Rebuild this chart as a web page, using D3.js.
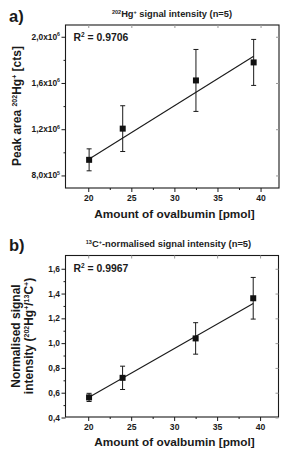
<!DOCTYPE html>
<html><head><meta charset="utf-8">
<script src="https://cdn.jsdelivr.net/npm/d3@7"></script>
<style>
html,body{margin:0;padding:0;background:#fff;}
svg{display:block;font-family:"Liberation Sans",Arial,sans-serif;}
</style></head>
<body>
<svg id="c" width="285" height="452"></svg>
<script>
// ---- data ----
const amount = [20.1, 24.0, 32.5, 39.2];               // pmol ovalbumin
const hgArea = [935000, 1205000, 1622000, 1778000];    // peak area 202Hg+ [cts]
const hgErr  = [95000, 198000, 268000, 199000];
const normSignal = [0.562, 0.720, 1.038, 1.362];       // 202Hg+/13C+
const normErr    = [0.033, 0.094, 0.127, 0.168];
const fitA = [8000, 46500];      // intercept, slope
const fitB = [-0.233, 0.0396];   // intercept, slope
const fitRange = [20.2, 39.2];
const xTicks = [20, 25, 30, 35, 40];
const xMinor = [22.5, 27.5, 32.5, 37.5];
const yTicksA = [800000, 1200000, 1600000, 2000000];
const yTickLabelsA = ["8,0x10", "1,2x10", "1,6x10", "2,0x10"];
const yTickExpA = ["5", "6", "6", "6"];
const yMinorA = [1000000, 1400000, 1800000];
const yTicksB = [0.4, 0.6, 0.8, 1.0, 1.2, 1.4, 1.6];
const yTickLabelsB = ["0,4", "0,6", "0,8", "1,0", "1,2", "1,4", "1,6"];
const yMinorB = [0.5, 0.7, 0.9, 1.1, 1.3, 1.5];
const r2 = ["0.9706", "0.9967"];

const svg = d3.select("#c");
const ink = "#1a1a1a";

function panel(o) {
  const g = svg.append("g");
  const x = d3.scaleLinear().domain([17.3, 42.2]).range([o.left, o.right]);
  const y = d3.scaleLinear().domain(o.ydom).range([o.bottom, o.top]);

  g.append("rect").attr("x", o.left + 0.5).attr("y", o.top + 0.5)
    .attr("width", o.right - o.left - 1).attr("height", o.bottom - o.top - 1)
    .attr("fill", "none").attr("stroke", ink).attr("stroke-width", 1.1);

  const xa = g.append("g").attr("transform", `translate(0,${o.bottom - 0.5})`)
    .call(d3.axisBottom(x).tickValues(xTicks).tickSize(4).tickFormat(d3.format("d")));
  const xm = g.append("g").attr("transform", `translate(0,${o.bottom - 0.5})`)
    .call(d3.axisBottom(x).tickValues(xMinor).tickSize(2).tickFormat(""));
  const xt = g.append("g").attr("transform", `translate(0,${o.top + 0.5})`)
    .call(d3.axisBottom(x).tickValues(xTicks).tickSize(3).tickFormat(""));
  const ya = g.append("g").attr("transform", `translate(${o.left + 0.5},0)`)
    .call(d3.axisLeft(y).tickValues(o.yticks).tickSize(4).tickFormat(""));
  const ym = g.append("g").attr("transform", `translate(${o.left + 0.5},0)`)
    .call(d3.axisLeft(y).tickValues(o.yminor).tickSize(2).tickFormat(""));
  const yr = g.append("g").attr("transform", `translate(${o.right - 0.5},0)`)
    .call(d3.axisLeft(y).tickValues(o.yticks).tickSize(3).tickFormat(""));
  [xa, xm, xt, ya, ym, yr].forEach(a => {
    a.select(".domain").remove();
    a.selectAll("line").attr("stroke", ink).attr("stroke-width", 1);
  });
  xt.selectAll("line").attr("stroke", "#999");
  yr.selectAll("line").attr("stroke", "#999");
  xa.selectAll("text").attr("dy", null).attr("y", 13)
    .attr("font-size", 8.6).attr("font-weight", "bold")
    .attr("font-family", "Liberation Sans, Arial, sans-serif").attr("fill", ink);

  const yl = g.append("g");
  o.yticks.forEach((t, i) => {
    const tx = yl.append("text").attr("x", o.left - 5).attr("y", y(t) + 3)
      .attr("text-anchor", "end").attr("font-size", 8.4).attr("font-weight", "bold").attr("fill", ink);
    tx.append("tspan").text(o.ylabels[i]);
    if (o.yexp) tx.append("tspan").attr("dy", -3.5).attr("font-size", 5.2).text(o.yexp[i]);
  });

  g.append("line")
    .attr("x1", x(fitRange[0])).attr("y1", y(o.fit[0] + o.fit[1] * fitRange[0]))
    .attr("x2", x(fitRange[1])).attr("y2", y(o.fit[0] + o.fit[1] * fitRange[1]))
    .attr("stroke", ink).attr("stroke-width", 1.1);

  const eb = g.append("g").attr("stroke", ink).attr("stroke-width", 1);
  amount.forEach((a, i) => {
    const cx = x(a), v = o.vals[i], e = o.errs[i];
    eb.append("line").attr("x1", cx).attr("x2", cx).attr("y1", y(v + e)).attr("y2", y(v - e));
    eb.append("line").attr("x1", cx - 2.5).attr("x2", cx + 2.5).attr("y1", y(v + e)).attr("y2", y(v + e));
    eb.append("line").attr("x1", cx - 2.5).attr("x2", cx + 2.5).attr("y1", y(v - e)).attr("y2", y(v - e));
  });
  g.append("g").selectAll("rect").data(amount).join("rect")
    .attr("x", d => x(d) - 3).attr("y", (d, i) => y(o.vals[i]) - 3)
    .attr("width", 6).attr("height", 6).attr("fill", "#111");

  const rt = g.append("text").attr("x", o.left + 8.5).attr("y", o.top + 16.5)
    .attr("font-size", 10.4).attr("font-weight", "bold").attr("fill", ink);
  rt.append("tspan").text("R");
  rt.append("tspan").attr("dy", -4).attr("font-size", 6.5).text("2");
  rt.append("tspan").attr("dy", 4).text(" = " + o.r2);

  g.append("text").attr("x", 174.5).attr("y", o.xlabelY)
    .attr("text-anchor", "middle").attr("font-size", 11.8).attr("font-weight", "bold").attr("fill", ink)
    .text("Amount of ovalbumin [pmol]");
  return {x, y, g};
}

const pa = panel({left: 65, right: 279.5, top: 24.5, bottom: 188.5,
  ydom: [687000, 2106000], yticks: yTicksA, yminor: yMinorA, ylabels: yTickLabelsA, yexp: yTickExpA,
  vals: hgArea, errs: hgErr, fit: fitA, r2: r2[0], xlabelY: 217.5});

svg.append("text").attr("x", 9).attr("y", 22).attr("font-size", 16.5).attr("font-weight", "bold")
  .attr("fill", ink).text("a)");
{
  const t = svg.append("text").attr("x", 172).attr("y", 17).attr("text-anchor", "middle")
    .attr("font-size", 9.3).attr("font-weight", "bold").attr("fill", "#222");
  t.append("tspan").attr("dy", -3.4).attr("font-size", 5.5).text("202");
  t.append("tspan").attr("dy", 3.4).text("Hg");
  t.append("tspan").attr("dy", -3.4).attr("font-size", 5.5).text("+");
  t.append("tspan").attr("dy", 3.4).text(" signal intensity (n=5)");
}
{
  const t = svg.append("text").attr("transform", "translate(21,106) rotate(-90)")
    .attr("text-anchor", "middle").attr("font-size", 12).attr("font-weight", "bold").attr("fill", ink);
  t.append("tspan").text("Peak area ");
  t.append("tspan").attr("dy", -4.5).attr("font-size", 7).text("202");
  t.append("tspan").attr("dy", 4.5).text("Hg");
  t.append("tspan").attr("dy", -4.5).attr("font-size", 7).text("+");
  t.append("tspan").attr("dy", 4.5).text(" [cts]");
}

const pb = panel({left: 65, right: 279, top: 255, bottom: 417.5,
  ydom: [0.4, 1.711], yticks: yTicksB, yminor: yMinorB, ylabels: yTickLabelsB, yexp: null,
  vals: normSignal, errs: normErr, fit: fitB, r2: r2[1], xlabelY: 445.5});

svg.append("text").attr("x", 9).attr("y", 251).attr("font-size", 16.5).attr("font-weight", "bold")
  .attr("fill", ink).text("b)");
{
  const t = svg.append("text").attr("x", 168.5).attr("y", 247).attr("text-anchor", "middle")
    .attr("font-size", 9.4).attr("font-weight", "bold").attr("fill", "#222");
  t.append("tspan").attr("dy", -3.4).attr("font-size", 5.5).text("13");
  t.append("tspan").attr("dy", 3.4).text("C");
  t.append("tspan").attr("dy", -3.4).attr("font-size", 5.5).text("+");
  t.append("tspan").attr("dy", 3.4).text("-normalised signal intensity (n=5)");
}
{
  svg.append("text").attr("transform", "translate(20,336) rotate(-90)")
    .attr("text-anchor", "middle").attr("font-size", 12).attr("font-weight", "bold").attr("fill", ink)
    .text("Normalised signal");
  const t = svg.append("text").attr("transform", "translate(33,336) rotate(-90)")
    .attr("text-anchor", "middle").attr("font-size", 12).attr("font-weight", "bold").attr("fill", ink);
  t.append("tspan").text("intensity (");
  t.append("tspan").attr("dy", -4.5).attr("font-size", 7).text("202");
  t.append("tspan").attr("dy", 4.5).text("Hg");
  t.append("tspan").attr("dy", -4.5).attr("font-size", 7).text("+");
  t.append("tspan").attr("dy", 4.5).text("/");
  t.append("tspan").attr("dy", -4.5).attr("font-size", 7).text("13");
  t.append("tspan").attr("dy", 4.5).text("C");
  t.append("tspan").attr("dy", -4.5).attr("font-size", 7).text("+");
  t.append("tspan").attr("dy", 4.5).text(")");
}
</script>
</body></html>
